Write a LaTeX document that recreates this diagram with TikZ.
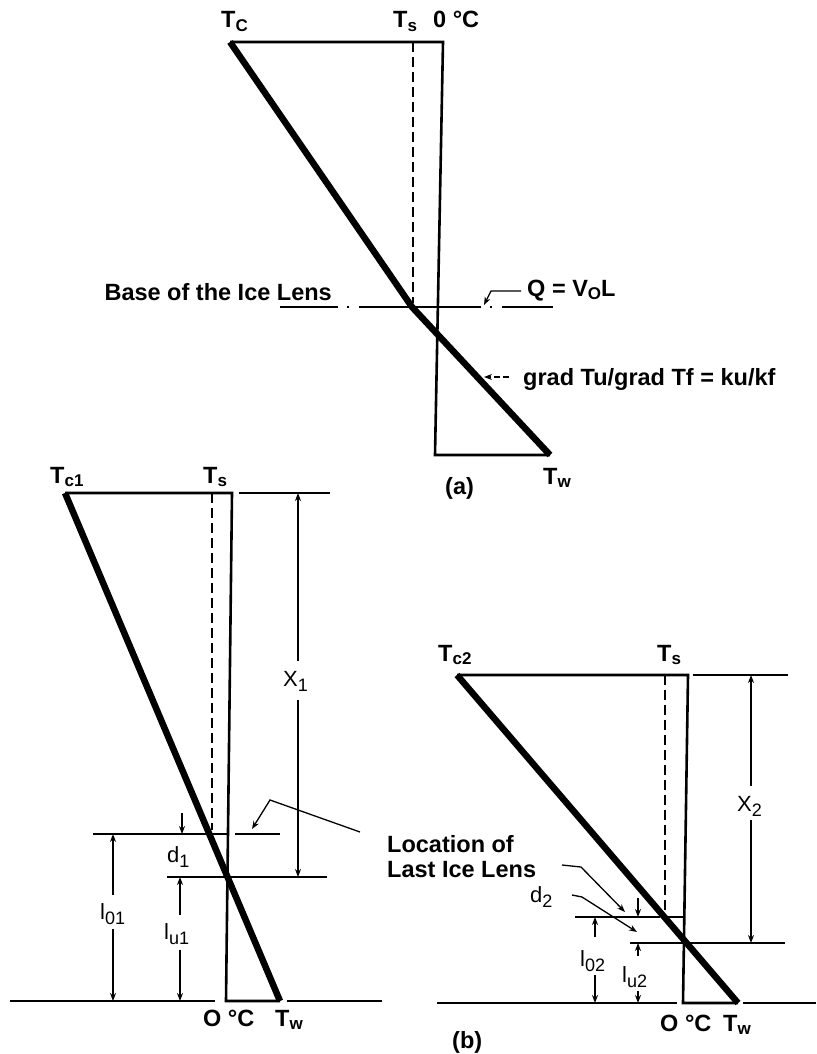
\documentclass[tikz,border=0pt]{standalone}
\usepackage{fontspec}
\setmainfont{Liberation Sans}
\usetikzlibrary{arrows.meta}
\newcommand\bsub[1]{\raisebox{-0.3ex}{\fontsize{17}{17}\selectfont #1}}
\newcommand\rsub[1]{\raisebox{-0.45ex}{\fontsize{18}{18}\selectfont #1}}
\begin{document}
\begin{tikzpicture}[x=1pt,y=-1pt,
  lab/.style={font=\fontsize{23.5}{26}\selectfont\bfseries, inner sep=0pt, anchor=base west},
  rlab/.style={font=\fontsize{22}{24}\selectfont, inner sep=0pt, anchor=base west},
  boxline/.style={line width=2.6pt, line join=miter},
  gradline/.style={line width=6.5pt, line join=miter},
  extline/.style={line width=1.3pt},
  dashline/.style={line width=2.6pt, dash pattern=on 10pt off 5pt},
  tip/.style={-{Stealth[length=8pt,width=6pt]}},
  dimarrow/.style={line width=1.3pt, tip},
]
\useasboundingbox (0,0) rectangle (816,1054);

% ================= (a) =================
\coordinate (aTL) at (230,42);
\coordinate (aTR) at (443,42);
\coordinate (aBL) at (435,455);
\coordinate (aBR) at (550,455);
\coordinate (aK)  at (412,307);
\draw[boxline] (aTL) -- (aTR) -- (aBL) -- (aBR);
\draw[dashline] (413,42) -- (413,303);
\draw[gradline] (aTL) -- (aK) -- (aBR);
\draw[extline, dash pattern=on 58pt off 9pt on 2pt off 10pt on 122pt off 9pt on 2pt off 10pt on 60pt]
  (280,307) -- (553,307);

\node[lab] (Tc) at (221,28) {T\bsub{C}};
\node[lab] (Ts) at (393,28) {T\bsub{s}};
\node[lab] (zc) at (433,28) {0 °C};
\node[lab, anchor=base east] (baselens) at (332,300) {Base of the Ice Lens};
\node[lab] (Q) at (527,296) {Q = V\bsub{O}L};
\node[lab] (grad) at (523,385) {grad Tu/grad Tf = ku/kf};
\node[lab] (Twa) at (543,484) {T\bsub{w}};
\node[lab] (la) at (445,494) {(a)};

\coordinate (q1) at (521,291);
\coordinate (q2) at (491,291);
\coordinate (q3) at (484,305);
\draw[extline, tip] (q1) -- (q2) -- (q3);
\coordinate (g1) at (509,377);
\coordinate (g2) at (484,377);
\draw[extline, dash pattern=on 6pt off 3pt, tip] (g1) -- (g2);

% ================= (b) left =================
\coordinate (LTL) at (65,493);
\coordinate (LTR) at (232,493);
\coordinate (LBR) at (226,1001);
\coordinate (LW)  at (280,1001);
\draw[boxline] (LTL) -- (LTR) -- (LBR) -- (LW);
\draw[dashline] (212,493) -- (212,830);
\draw[gradline] (LTL) -- (LW);
% reference lines
\draw[extline] (239,493) -- (330,493);
\draw[extline] (93,834) -- (208,834);
\draw[boxline] (211,834) -- (229,834);
\draw[extline] (235,834) -- (280,834);
\draw[extline] (167,877) -- (327,877);
\draw[extline] (10,1001) -- (215,1001);
\draw[extline] (287,1001) -- (382,1001);

\node[lab] (Tc1) at (50,483) {T\bsub{c1}};
\node[lab] (Ts1) at (203,483) {T\bsub{s}};
\node[rlab] (X1) at (283,686) {X\rsub{1}};
\node[rlab] (d1) at (167,862) {d\rsub{1}};
\node[rlab] (l01) at (100,919) {l\rsub{01}};
\node[rlab] (lu1) at (164,939) {l\rsub{u1}};
\node[lab] (oc1) at (203,1026) {O °C};
\node[lab] (Tw1) at (275,1026) {T\bsub{w}};

% dimension arrows
\draw[dimarrow] (298,661) -- (298,493);
\draw[dimarrow] (298,700) -- (298,877);
\draw[dimarrow] (182,813) -- (182,834);
\draw[dimarrow] (113,895) -- (113,834);
\draw[dimarrow] (113,929) -- (113,1001);
\draw[dimarrow] (180,915) -- (180,877);
\draw[dimarrow] (180,950) -- (180,1001);

% leader to last ice lens
\node[lab] (loc1) at (387,852) {Location of};
\node[lab] (loc2) at (387,877) {Last Ice Lens};
\coordinate (p1) at (360,832);
\coordinate (p2) at (270,800);
\coordinate (p3) at (252,829);
\draw[extline, tip] (p1) -- (p2) -- (p3);

% ================= (b) right =================
\coordinate (RTL) at (457,675);
\coordinate (RTR) at (688,675);
\coordinate (RBR) at (683,1003);
\coordinate (RW)  at (738,1003);
\draw[boxline] (RTL) -- (RTR) -- (RBR) -- (RW);
\draw[dashline] (665,675) -- (665,913);
\draw[gradline] (RTL) -- (RW);
\draw[extline] (693,675) -- (788,675);
\draw[extline] (575,917) -- (660,917);
\draw[boxline] (665,917) -- (684,917);
\draw[extline] (630,943) -- (785,943);
\draw[extline] (437,1003) -- (677,1003);
\draw[extline] (743,1003) -- (816,1003);

\node[lab] (Tc2) at (438,661) {T\bsub{c2}};
\node[lab] (Ts2) at (657,661) {T\bsub{s}};
\node[rlab] (X2) at (737,811) {X\rsub{2}};
\node[rlab] (d2) at (530,902) {d\rsub{2}};
\node[rlab] (l02) at (580,966) {l\rsub{02}};
\node[rlab] (lu2) at (622,982) {l\rsub{u2}};
\node[lab] (oc2) at (660,1031) {O °C};
\node[lab] (Tw2) at (723,1031) {T\bsub{w}};
\node[lab] (lb) at (452,1048) {(b)};

\draw[dimarrow] (751,786) -- (751,675);
\draw[dimarrow] (751,820) -- (751,943);
\draw[dimarrow] (638,898) -- (638,917);
\draw[dimarrow] (595,937) -- (595,917);
\draw[dimarrow] (595,975) -- (595,1003);
\draw[dimarrow] (638,956) -- (638,943);
\draw[dimarrow] (638,991) -- (638,1003);

\coordinate (r1) at (562,865);
\coordinate (r2) at (581,867);
\coordinate (r3) at (625,912);
\draw[extline, tip] (r1) -- (r2) -- (r3);
\coordinate (s1) at (572,895);
\coordinate (s2) at (582,897);
\coordinate (s3) at (637,932);
\draw[extline, tip] (s1) -- (s2) -- (s3);
\end{tikzpicture}
\end{document}
